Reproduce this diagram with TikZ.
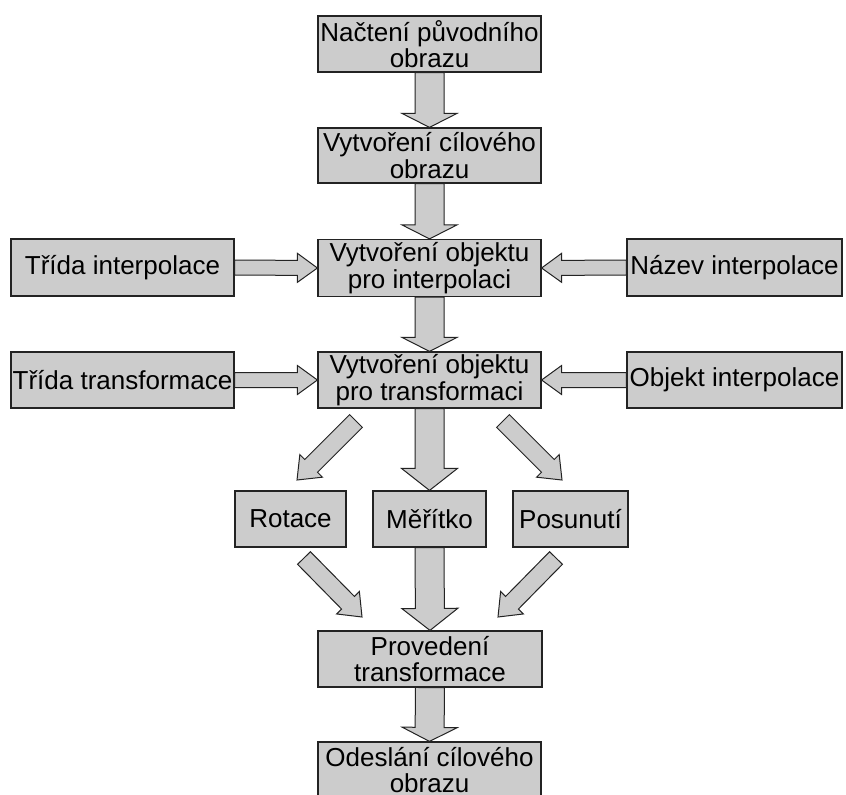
\documentclass[tikz,border=0pt]{standalone}
\usepackage{fontspec}
\setmainfont{Liberation Sans}
\usetikzlibrary{calc}
\definecolor{boxgray}{RGB}{204,204,204}
\definecolor{edgegray}{RGB}{35,35,35}

\tikzset{
  stepbox/.style={draw=edgegray, fill=boxgray, line width=1.2pt, inner sep=0pt,
    align=center, font=\fontsize{26}{26.5}\selectfont},
  arrowbox/.style={draw=edgegray, fill=boxgray, line width=1pt, line join=miter}
}

% block arrow: tail, tip, shaft half width, head half width, head length
\newcommand{\blockarr}[5]{%
  \coordinate (hb) at ($(#2)!#5!(#1)$);
  \draw[arrowbox] ($(#1)!#3!90:(#2)$) -- ($(hb)!#3!90:(#2)$) -- ($(hb)!#4!90:(#2)$) -- (#2)
    -- ($(hb)!#4!-90:(#2)$) -- ($(hb)!#3!-90:(#2)$) -- ($(#1)!#3!-90:(#2)$) -- cycle;
}

\begin{document}
\begin{tikzpicture}[x=1pt, y=-1pt]
  \useasboundingbox (0,0) rectangle (846,795);

  % main column
  \node[stepbox, minimum width=223pt, minimum height=56pt] (nacteni) at (429.5,44) {Načtení původního\\obrazu};
  \node[stepbox, minimum width=223pt, minimum height=55pt] (cilovy) at (429.5,155.5) {Vytvoření cílového\\obrazu};
  \node[stepbox, minimum width=223pt, minimum height=57pt] (interp) at (429.5,268) {Vytvoření objektu\\pro interpolaci};
  \node[stepbox, minimum width=223pt, minimum height=56pt] (transf) at (429.5,380) {Vytvoření objektu\\pro transformaci};
  \node[stepbox, minimum width=224pt, minimum height=56pt] (provedeni) at (430,659) {Provedení\\transformace};
  \node[stepbox, minimum width=223pt, minimum height=56pt] (odeslani) at (429.5,770) {Odeslání cílového\\obrazu};

  % side inputs
  \node[stepbox, minimum width=223pt, minimum height=57pt] (tridaint) at (122.5,267.5) {Třída interpolace};
  \node[stepbox, minimum width=223pt, minimum height=56pt] (tridatr) at (122.5,380) {Třída transformace};
  \node[stepbox, minimum width=215pt, minimum height=57pt] (nazev) at (734.5,267.5) {Název interpolace};
  \node[stepbox, minimum width=215pt, minimum height=56pt] (objekt) at (734.5,380) {Objekt interpolace};

  % transformations
  \node[stepbox, minimum width=111pt, minimum height=56pt] (rotace) at (290.5,519) {Rotace};
  \node[stepbox, minimum width=113pt, minimum height=56pt] (meritko) at (429.5,519) {Měřítko};
  \node[stepbox, minimum width=115pt, minimum height=56pt] (posunuti) at (570.5,519) {Posunutí};

  % free ends of the slanted arrows
  \coordinate (rotT) at (356,421);  \coordinate (rotH) at (297,480);
  \coordinate (posT) at (503,421);  \coordinate (posH) at (562,480);
  \coordinate (rotB) at (304,558);  \coordinate (rotP) at (362,617);
  \coordinate (posB) at (556,558);  \coordinate (posP) at (498,617);

  % vertical arrows
  \blockarr{nacteni.south}{cilovy.north}{14.5pt}{27.5pt}{14pt}
  \blockarr{cilovy.south}{interp.north}{14.5pt}{27.5pt}{14pt}
  \blockarr{interp.south}{transf.north}{14.5pt}{27.5pt}{14pt}
  \blockarr{transf.south}{meritko.north}{14.5pt}{28pt}{22pt}
  \blockarr{meritko.south}{provedeni.north}{14.5pt}{28pt}{22pt}
  \blockarr{provedeni.south}{odeslani.north}{14.5pt}{27.5pt}{14pt}

  % horizontal arrows
  \blockarr{tridaint.east}{interp.west}{7.5pt}{14.5pt}{20pt}
  \blockarr{nazev.west}{interp.east}{7.5pt}{14.5pt}{20pt}
  \blockarr{tridatr.east}{transf.west}{7.5pt}{14.5pt}{20pt}
  \blockarr{objekt.west}{transf.east}{7.5pt}{14.5pt}{20pt}

  % slanted arrows
  \blockarr{rotT}{rotH}{9pt}{16pt}{20pt}
  \blockarr{posT}{posH}{9pt}{16pt}{20pt}
  \blockarr{rotB}{rotP}{9pt}{16pt}{20pt}
  \blockarr{posB}{posP}{9pt}{16pt}{20pt}
\end{tikzpicture}
\end{document}
